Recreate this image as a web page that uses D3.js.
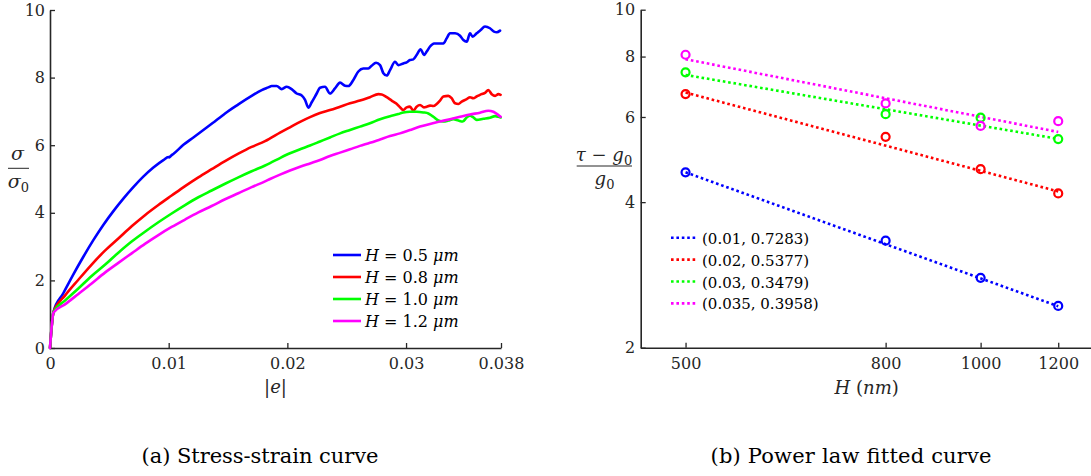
<!DOCTYPE html>
<html>
<head>
<meta charset="utf-8">
<script src="https://cdn.jsdelivr.net/npm/d3@7"></script>
<style>
  html, body { margin: 0; padding: 0; background: #fff; }
  svg { display: block; font-family: "DejaVu Serif", "Liberation Serif", "Noto Serif", serif; }
</style>
</head>
<body>
<svg id="fig" width="1091" height="476"></svg>
<script>
// ---------- (a) stress-strain data: [|e|, sigma/sigma0] ----------
const strainTicks = [0, 0.01, 0.02, 0.03, 0.038];
const stressTicks = [0, 2, 4, 6, 8, 10];
const thicknessLabels = ["0.5", "0.8", "1.0", "1.2"];

const curveH05 = [
  [0, 0], [0.0003, 1.08], [0.00112, 1.62], [0.00197, 2.18], [0.00281, 2.70], [0.00365, 3.19],
  [0.00449, 3.64], [0.00534, 4.05], [0.00618, 4.42], [0.00702, 4.76], [0.00786, 5.07], [0.00871, 5.34],
  [0.00955, 5.56], [0.00998, 5.65], [0.01005, 5.64], [0.0102, 5.69], [0.01039, 5.74], [0.01124, 6.01],
  [0.01208, 6.23], [0.01292, 6.45], [0.01376, 6.67], [0.01432, 6.82], [0.01475, 6.94], [0.01587, 7.21],
  [0.01699, 7.46], [0.01784, 7.63], [0.01840, 7.71], [0.01868, 7.75], [0.01910, 7.75], [0.01952, 7.66],
  [0.01994, 7.73], [0.02036, 7.66], [0.02078, 7.53], [0.02121, 7.47], [0.02149, 7.34], [0.02177, 7.11],
  [0.02205, 7.27], [0.02247, 7.53], [0.02275, 7.70], [0.02317, 7.73], [0.02359, 7.53], [0.02401, 7.68],
  [0.02444, 7.85], [0.02486, 7.76], [0.02514, 7.75], [0.02556, 7.93], [0.02598, 8.18], [0.02640, 8.27],
  [0.02682, 8.27], [0.02710, 8.35], [0.02747, 8.44], [0.02781, 8.37], [0.02809, 8.13], [0.02837, 8.06],
  [0.02865, 8.22], [0.02907, 8.47], [0.02935, 8.37], [0.02977, 8.42], [0.03005, 8.45], [0.03033, 8.52],
  [0.03061, 8.54], [0.03089, 8.67], [0.03123, 8.84], [0.03151, 8.67], [0.03174, 8.77], [0.03202, 8.92],
  [0.03236, 9.01], [0.03272, 9.01], [0.03314, 9.01], [0.03342, 9.16], [0.03370, 9.31], [0.03413, 9.31],
  [0.03455, 9.24], [0.03483, 9.11], [0.03511, 9.06], [0.03539, 9.31], [0.03561, 9.21], [0.03595, 9.31],
  [0.03629, 9.41], [0.03665, 9.51], [0.03707, 9.46], [0.03741, 9.36], [0.03764, 9.34], [0.03792, 9.39]
];

const curveH08 = [
  [0, 0], [0.0003, 1.07], [0.00126, 1.55], [0.00239, 2.02], [0.00351, 2.47], [0.00463, 2.88],
  [0.00576, 3.24], [0.00688, 3.60], [0.00800, 3.93], [0.00913, 4.23], [0.01025, 4.51], [0.01138, 4.79],
  [0.01250, 5.05], [0.01362, 5.29], [0.01475, 5.53], [0.01587, 5.75], [0.01699, 5.95], [0.01812, 6.12],
  [0.01854, 6.20], [0.01938, 6.37], [0.02022, 6.53], [0.02107, 6.69], [0.02191, 6.83], [0.02275, 6.95],
  [0.02359, 7.04], [0.02444, 7.14], [0.02528, 7.24], [0.02612, 7.32], [0.02696, 7.42], [0.02767, 7.51],
  [0.02795, 7.50], [0.02837, 7.42], [0.02879, 7.32], [0.02915, 7.24], [0.02944, 7.14], [0.02977, 7.04],
  [0.03005, 7.12], [0.03033, 7.14], [0.03061, 7.02], [0.03089, 7.14], [0.03118, 7.19], [0.03151, 7.12],
  [0.03174, 7.14], [0.03202, 7.17], [0.03230, 7.16], [0.03258, 7.22], [0.03286, 7.32], [0.03314, 7.44],
  [0.03356, 7.46], [0.03384, 7.39], [0.03413, 7.24], [0.03441, 7.22], [0.03469, 7.29], [0.03511, 7.36],
  [0.03539, 7.42], [0.03567, 7.39], [0.03595, 7.44], [0.03623, 7.49], [0.03665, 7.55], [0.03693, 7.63],
  [0.03722, 7.51], [0.03750, 7.46], [0.03778, 7.51], [0.03797, 7.49]
];

const curveH10 = [
  [0, 0], [0.0003, 1.07], [0.00126, 1.40], [0.00239, 1.76], [0.00351, 2.13], [0.00463, 2.46],
  [0.00576, 2.82], [0.00688, 3.15], [0.00800, 3.44], [0.00913, 3.72], [0.01025, 3.98], [0.01138, 4.23],
  [0.01250, 4.46], [0.01362, 4.66], [0.01475, 4.86], [0.01587, 5.05], [0.01699, 5.23], [0.01812, 5.40],
  [0.01854, 5.47], [0.01938, 5.62], [0.02022, 5.76], [0.02107, 5.88], [0.02191, 5.99], [0.02275, 6.11],
  [0.02359, 6.23], [0.02444, 6.35], [0.02528, 6.45], [0.02612, 6.55], [0.02696, 6.65], [0.02781, 6.77],
  [0.02865, 6.86], [0.02935, 6.92], [0.02977, 6.97], [0.03033, 6.99], [0.03089, 6.99], [0.03146, 6.97],
  [0.03188, 6.94], [0.03230, 6.84], [0.03272, 6.73], [0.03314, 6.70], [0.03356, 6.73], [0.03398, 6.77],
  [0.03441, 6.73], [0.03477, 6.70], [0.03511, 6.82], [0.03539, 6.87], [0.03567, 6.82], [0.03595, 6.75],
  [0.03651, 6.78], [0.03707, 6.81], [0.03750, 6.86], [0.03778, 6.84], [0.03797, 6.82]
];

const curveH12 = [
  [0, 0], [0.0003, 1.05], [0.00126, 1.29], [0.00239, 1.60], [0.00351, 1.91], [0.00463, 2.23],
  [0.00576, 2.52], [0.00688, 2.80], [0.00800, 3.08], [0.00913, 3.34], [0.01025, 3.58], [0.01138, 3.80],
  [0.01250, 4.01], [0.01362, 4.20], [0.01475, 4.40], [0.01587, 4.58], [0.01699, 4.76], [0.01812, 4.93],
  [0.01854, 5.00], [0.01938, 5.13], [0.02022, 5.25], [0.02107, 5.36], [0.02191, 5.46], [0.02275, 5.56],
  [0.02359, 5.68], [0.02444, 5.78], [0.02528, 5.88], [0.02612, 5.98], [0.02696, 6.07], [0.02781, 6.17],
  [0.02865, 6.27], [0.02949, 6.35], [0.03033, 6.45], [0.03118, 6.55], [0.03202, 6.63], [0.03286, 6.70],
  [0.03370, 6.77], [0.03455, 6.84], [0.03539, 6.91], [0.03623, 6.96], [0.03693, 7.02], [0.03736, 6.99],
  [0.03778, 6.89], [0.03797, 6.84]
];

// ---------- (b) normalised strength vs. specimen size ----------
const sizeH = [500, 800, 1000, 1200];
const sizeTicks = [500, 800, 1000, 1200];
const ratioTicks = [2, 4, 6, 8, 10];
const ratioE010 = [4.61, 3.33, 2.79, 2.44];
const ratioE020 = [6.69, 5.46, 4.68, 4.17];
const ratioE030 = [7.42, 6.08, 5.98, 5.40];
const ratioE035 = [8.07, 6.40, 5.75, 5.88];
const fitStrain = ["0.01", "0.02", "0.03", "0.035"];
const fitExponent = [0.7283, 0.5377, 0.3479, 0.3958];
const fitAt500 = [4.61, 6.74, 7.33, 7.90];

const colors = ["#0000ff", "#ff0000", "#00ff00", "#ff00ff"];
const axisColor = "#262626";
const serif = '"DejaVu Serif", "Liberation Serif", "Noto Serif", serif';

const svg = d3.select("#fig");

function styleAxis(g) {
  g.attr("font-family", serif);
  g.select(".domain").attr("stroke", axisColor).attr("stroke-width", 1.6);
  g.selectAll(".tick line").attr("stroke", axisColor).attr("stroke-width", 1.3);
  g.selectAll(".tick text").attr("fill", axisColor)
    .style("font-family", serif).style("font-size", "16px");
}

// ================= panel (a) =================
const xA = d3.scaleLinear().domain([0, 0.038]).range([50, 501]);
const yA = d3.scaleLinear().domain([0, 10]).range([348, 10]);

const gA = svg.append("g");
gA.append("g").attr("transform", "translate(0,348)")
  .call(d3.axisBottom(xA).tickValues(strainTicks).tickFormat(d => d === 0 ? "0" : String(d))
        .tickSize(-5).tickSizeOuter(0).tickPadding(10))
  .call(styleAxis);
gA.append("g").attr("transform", "translate(50,0)")
  .call(d3.axisLeft(yA).tickValues(stressTicks).tickFormat(d3.format("d"))
        .tickSize(-5).tickSizeOuter(0).tickPadding(5))
  .call(styleAxis);

const lineA = d3.line().curve(d3.curveMonotoneX).x(d => xA(d[0])).y(d => yA(d[1]));
const curves = [curveH05, curveH08, curveH10, curveH12];
gA.selectAll("path.curve").data(curves).join("path")
  .attr("class", "curve")
  .attr("d", lineA)
  .attr("fill", "none")
  .attr("stroke", (d, i) => colors[i])
  .attr("stroke-width", 2.6)
  .attr("stroke-linejoin", "round")
  .attr("stroke-linecap", "round");

// legend (a)
const legA = gA.append("g");
thicknessLabels.forEach((lab, i) => {
  const yy = 255 + i * 22;
  legA.append("line").attr("x1", 333).attr("x2", 361).attr("y1", yy).attr("y2", yy)
    .attr("stroke", colors[i]).attr("stroke-width", 2.6);
  const t = legA.append("text").attr("x", 365).attr("y", yy + 6)
    .attr("fill", "#000").style("font-size", "16px");
  t.append("tspan").attr("font-style", "italic").text("H");
  t.append("tspan").text(" = " + lab + " ");
  t.append("tspan").attr("font-style", "italic").text("μm");
});

// axis labels (a)
const xlabA = gA.append("text").attr("x", 275.5).attr("y", 393).attr("text-anchor", "middle")
  .attr("fill", axisColor).style("font-size", "18px");
xlabA.append("tspan").text("|");
xlabA.append("tspan").attr("font-style", "italic").text("e");
xlabA.append("tspan").text("|");

gA.append("text").attr("x", 17.5).attr("y", 160).attr("text-anchor", "middle")
  .attr("fill", axisColor).style("font-size", "19px").attr("font-style", "italic").text("σ");
gA.append("line").attr("x1", 8).attr("x2", 29).attr("y1", 168.3).attr("y2", 168.3)
  .attr("stroke", axisColor).attr("stroke-width", 1);
const denA = gA.append("text").attr("x", 18.5).attr("y", 188).attr("text-anchor", "middle")
  .attr("fill", axisColor).style("font-size", "19px");
denA.append("tspan").attr("font-style", "italic").text("σ");
denA.append("tspan").attr("dy", 4).style("font-size", "13px").text("0");

// ================= panel (b) =================
const xB = d3.scaleLog().domain([450, 1300]).range([640.7, 1092.3]);
const yB = d3.scaleLog().domain([2, 10]).range([347.7, 9.7]);

const gB = svg.append("g");
gB.append("g").attr("transform", "translate(0,347.7)")
  .call(d3.axisBottom(xB).tickValues(sizeTicks).tickFormat(d3.format("d"))
        .tickSize(-5).tickSizeOuter(0).tickPadding(10))
  .call(styleAxis);
gB.append("g").attr("transform", "translate(640.7,0)")
  .call(d3.axisLeft(yB).tickValues(ratioTicks).tickFormat(d3.format("d"))
        .tickSize(-5).tickSizeOuter(0).tickPadding(5.5))
  .call(styleAxis);

const ratios = [ratioE010, ratioE020, ratioE030, ratioE035];
const lineB = d3.line().x(d => xB(d[0])).y(d => yB(d[1]));

// fitted power laws  (tau - g0)/g0 ~ H^(-n), anchored at H = 500 nm
fitExponent.forEach((n, i) => {
  const ends = [sizeH[0], sizeH[sizeH.length - 1]]
    .map(h => [h, fitAt500[i] * Math.pow(h / sizeH[0], -n)]);
  gB.append("path").attr("d", lineB(ends))
    .attr("fill", "none").attr("stroke", colors[i])
    .attr("stroke-width", 2.6).attr("stroke-dasharray", "2.6,2.8");
});

// measured points
ratios.forEach((vals, i) => {
  gB.selectAll(null).data(vals.map((v, k) => [sizeH[k], v])).join("circle")
    .attr("cx", d => xB(d[0])).attr("cy", d => yB(d[1])).attr("r", 4)
    .attr("fill", "none").attr("stroke", colors[i]).attr("stroke-width", 2.2);
});

// legend (b)
const legB = gB.append("g");
fitStrain.forEach((s, i) => {
  const yy = 237.7 + i * 21.9;
  legB.append("line").attr("x1", 671).attr("x2", 697).attr("y1", yy).attr("y2", yy)
    .attr("stroke", colors[i]).attr("stroke-width", 2.6).attr("stroke-dasharray", "2.6,2.8");
  legB.append("text").attr("x", 702).attr("y", yy + 6).attr("fill", "#000")
    .style("font-size", "15px").text("(" + s + ", " + fitExponent[i] + ")");
});

// axis labels (b)
const xlabB = gB.append("text").attr("x", 866.7).attr("y", 394).attr("text-anchor", "middle")
  .attr("fill", axisColor).style("font-size", "18px");
xlabB.append("tspan").attr("font-style", "italic").text("H");
xlabB.append("tspan").text(" (");
xlabB.append("tspan").attr("font-style", "italic").text("nm");
xlabB.append("tspan").text(")");

const numB = gB.append("text").attr("x", 604).attr("y", 160.7).attr("text-anchor", "middle")
  .attr("fill", axisColor).style("font-size", "18px");
numB.append("tspan").attr("font-style", "italic").text("τ");
numB.append("tspan").text(" − ");
numB.append("tspan").attr("font-style", "italic").text("g");
numB.append("tspan").attr("dy", 4).style("font-size", "13px").text("0");
gB.append("line").attr("x1", 576.7).attr("x2", 632).attr("y1", 166).attr("y2", 166)
  .attr("stroke", axisColor).attr("stroke-width", 1);
const denB = gB.append("text").attr("x", 604.5).attr("y", 185).attr("text-anchor", "middle")
  .attr("fill", axisColor).style("font-size", "18px");
denB.append("tspan").attr("font-style", "italic").text("g");
denB.append("tspan").attr("dy", 4).style("font-size", "13px").text("0");

// ================= captions =================
svg.append("text").attr("x", 260).attr("y", 463).attr("text-anchor", "middle")
  .attr("fill", "#000").style("font-size", "21px")
  .attr("textLength", 237).attr("lengthAdjust", "spacing")
  .text("(a) Stress-strain curve");
svg.append("text").attr("x", 851).attr("y", 463).attr("text-anchor", "middle")
  .attr("fill", "#000").style("font-size", "21px")
  .attr("textLength", 281).attr("lengthAdjust", "spacing")
  .text("(b) Power law fitted curve");
</script>
</body>
</html>
